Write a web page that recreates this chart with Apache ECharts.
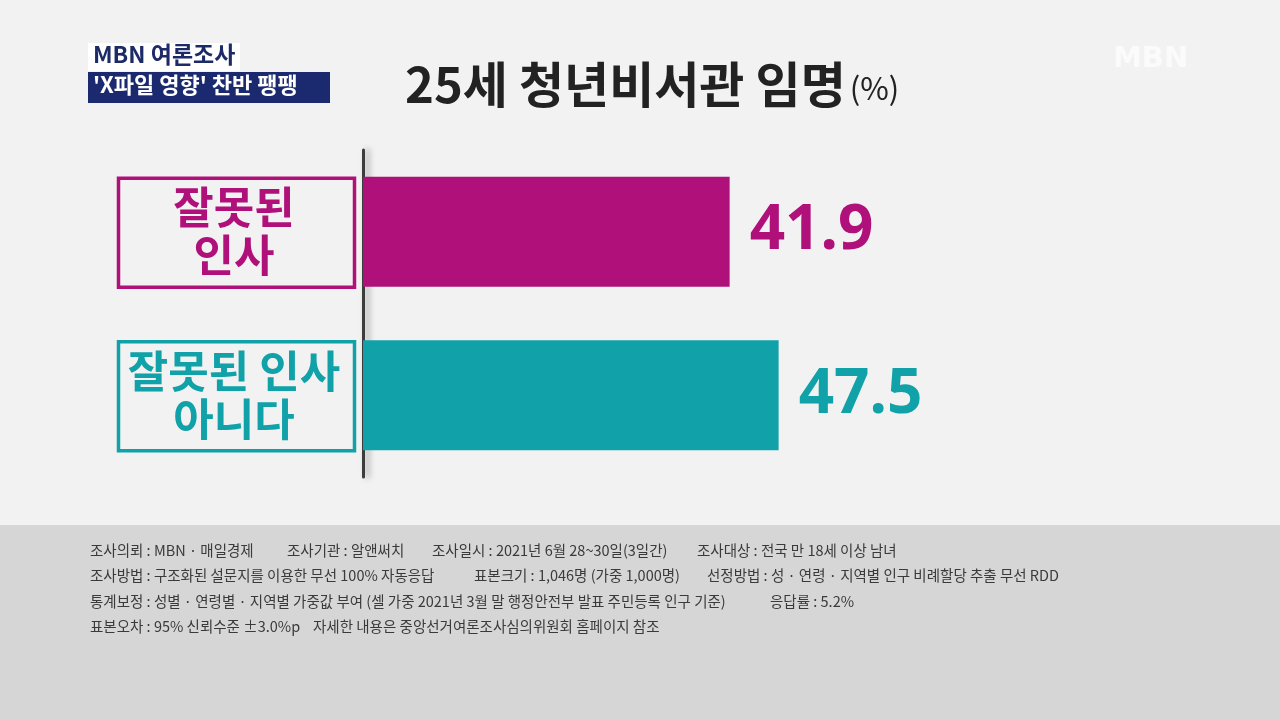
<!DOCTYPE html>
<html>
<head>
<meta charset="utf-8">
<script src="https://cdn.jsdelivr.net/npm/echarts@6/dist/echarts.min.js"></script>
<style>
  html, body { margin: 0; padding: 0; background: #f2f2f2; }
  #chart { width: 1280px; height: 720px; }
</style>
</head>
<body>
<div id="chart"></div>
<script>
// 25세 청년비서관 임명 (%)
const categories = ['잘못된\n인사', '잘못된 인사\n아니다']
const values = [41.9, 47.5]
const barColors = ['#b0107a', '#10a2a8']

const footnotes = [
  ['조사의뢰 : MBN · 매일경제', '조사기관 : 알앤써치', '조사일시 : 2021년 6월 28~30일(3일간)', '조사대상 : 전국 만 18세 이상 남녀'],
  ['조사방법 : 구조화된 설문지를 이용한 무선 100% 자동응답', '표본크기 : 1,046명 (가중 1,000명)', '선정방법 : 성 · 연령 · 지역별 인구 비례할당 추출 무선 RDD'],
  ['통계보정 : 성별 · 연령별 · 지역별 가중값 부여 (셀 가중 2021년 3월 말 행정안전부 발표 주민등록 인구 기준)', '응답률 : 5.2%'],
  ['표본오차 : 95% 신뢰수준 ±3.0%p', '자세한 내용은 중앙선거여론조사심의위원회 홈페이지 참조']
]
const footX = [
  [90, 287, 432, 697],
  [90, 474, 707],
  [90, 770],
  [90, 313]
]

const chart = echarts.init(document.getElementById('chart'))

const KR = '"Noto Sans CJK KR", "Noto Sans", sans-serif'

const footGraphics = []
footnotes.forEach((line, li) => {
  line.forEach((txt, si) => {
    footGraphics.push({
      type: 'text',
      left: footX[li][si],
      top: 543 + li * 25.5,
      style: {text: txt, fill: '#3a3a3a', font: '14.5px ' + KR}
    })
  })
})

const option = {
  backgroundColor: '#f2f2f2',
  animation: false,
  grid: {left: 363, right: 42, top: 150, height: 327},
  xAxis: {
    type: 'value',
    min: 0,
    max: 100,
    show: false
  },
  yAxis: {
    type: 'category',
    inverse: true,
    data: categories,
    axisTick: {show: false},
    axisLine: {
      lineStyle: {
        color: '#3c3c3c',
        width: 3,
        shadowColor: 'rgba(0,0,0,0.35)',
        shadowBlur: 6,
        shadowOffsetX: 4
      }
    },
    axisLabel: {
      margin: 129,
      align: 'center',
      fontSize: 44,
      fontWeight: 'bold',
      lineHeight: 48,
      fontFamily: KR,
      color: (v, i) => barColors[i]
    }
  },
  series: [{
    type: 'bar',
    barWidth: 110,
    data: values.map((v, i) => ({
      value: v,
      itemStyle: {color: barColors[i]},
      label: {color: barColors[i]}
    })),
    label: {
      show: true,
      position: 'right',
      distance: 20,
      fontSize: 62,
      fontWeight: 'bold',
      fontFamily: '"Noto Sans", sans-serif'
    }
  }],
  graphic: [
    // 하단 회색 패널
    {type: 'rect', left: 0, top: 525, shape: {width: 1280, height: 195}, style: {fill: '#d6d6d6'}, z: -1},
    // 좌상단 자막
    {type: 'rect', left: 88, top: 43, shape: {width: 152, height: 28}, style: {fill: '#ffffff'}},
    {type: 'text', left: 93, top: 43, style: {text: 'MBN 여론조사', fill: '#1c2a66', font: 'bold 23px ' + KR}},
    {type: 'rect', left: 88, top: 72, shape: {width: 242, height: 31}, style: {fill: '#1b2a6e'}},
    {type: 'text', left: 93, top: 74, style: {text: "'X파일 영향' 찬반 팽팽", fill: '#ffffff', font: 'bold 22px ' + KR}},
    // 워터마크
    {type: 'text', left: 1113, top: 45, style: {text: 'MBN', fill: '#fbfbfb', font: 'bold 29px "DejaVu Sans", sans-serif', shadowColor: 'rgba(0,0,0,0.12)', shadowBlur: 2}},
    // 제목
    {
      type: 'text', left: 405, top: 60,
      style: {
        text: '{a|25세 청년비서관 임명}{b|(%)}',
        rich: {
          a: {fontSize: 49, fontWeight: 'bold', fontFamily: KR, fill: '#222222', verticalAlign: 'bottom'},
          b: {fontSize: 31, fontFamily: KR, fill: '#222222', padding: [0, 0, 5, 4], verticalAlign: 'bottom'}
        }
      }
    }
  ].concat(footGraphics)
}

chart.setOption(option)

// 범주 라벨 테두리 상자 (축 좌표에서 계산)
const boxes = categories.map((c, i) => {
  const y = chart.convertToPixel({yAxisIndex: 0}, i)
  return {
    type: 'rect',
    left: 116,
    top: y - 56,
    shape: {width: 236, height: 109},
    style: {fill: 'none', stroke: barColors[i], lineWidth: 3.5}
  }
})
chart.setOption({graphic: option.graphic.concat(boxes)})
</script>
</body>
</html>
